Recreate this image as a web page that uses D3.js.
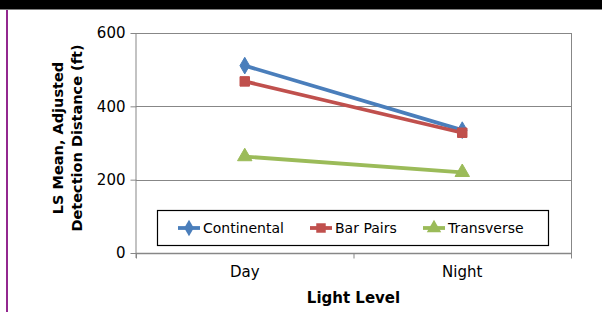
<!DOCTYPE html>
<html><head><meta charset="utf-8">
<script src="https://cdn.jsdelivr.net/npm/d3@7"></script>
<style>body{margin:0;background:#fff}svg{display:block}</style>
</head><body><svg id="c" width="602" height="312"></svg>
<script>
const categories = ["Day", "Night"];
const seriesNames = ["Continental", "Bar Pairs", "Transverse"];
const continental = [511, 335];
const barPairs = [468, 328];
const transverse = [263, 220];
const yTicks = [0, 200, 400, 600];
const colors = ["#4A7EBB", "#C0504D", "#9BBB59"];
const markers = ["diamond", "square", "triangle"];

const svg = d3.select("#c");
const font = "DejaVu Sans, Verdana, sans-serif";
const L = 136, R = 571, T = 33, B = 253;

// frame decorations
svg.append("rect").attr("x",0).attr("y",0).attr("width",602).attr("height",9).attr("fill","#000");
svg.append("line").attr("x1",0).attr("x2",602).attr("y1",9.5).attr("y2",9.5).attr("stroke","#7f7f7f");
svg.append("rect").attr("x",6).attr("y",10).attr("width",2).attr("height",302).attr("fill","#93278F");

const x = d3.scaleBand().domain(categories).range([L, R]);
const y = d3.scaleLinear().domain([0, 600]).range([B, T]);

// gridlines
svg.append("g").selectAll("line").data(yTicks.filter(d=>d>0)).join("line")
  .attr("x1",L).attr("x2",R).attr("y1",d=>Math.round(y(d))+0.5).attr("y2",d=>Math.round(y(d))+0.5)
  .attr("stroke","#878787").attr("stroke-width",1);
// right border
svg.append("line").attr("x1",R+0.5).attr("x2",R+0.5).attr("y1",T).attr("y2",B+5).attr("stroke","#878787");

// y axis
const yAxis = svg.append("g").attr("transform",`translate(${L+0.5},0)`)
  .call(d3.axisLeft(y).tickValues(yTicks).tickSize(6).tickPadding(5));
yAxis.select(".domain").attr("stroke","#878787").attr("d",`M-0.5,${T}V${B+5}`);
yAxis.selectAll(".tick line").attr("stroke","#878787");
yAxis.selectAll("text").attr("font-family",font).attr("font-size",15).attr("fill","#000");

// x axis
const xAxis = svg.append("g").attr("transform",`translate(0,${B+0.5})`);
xAxis.append("line").attr("x1",L).attr("x2",R+1).attr("y1",0).attr("y2",0).attr("stroke","#878787").attr("stroke-width",1.5);
const tickPos = categories.map(c=>x(c)).concat([R]);
xAxis.selectAll("line.t").data(tickPos).join("line").attr("class","t")
  .attr("x1",d=>d+0.5).attr("x2",d=>d+0.5).attr("y1",0).attr("y2",5).attr("stroke","#878787");
xAxis.selectAll("text").data(categories).join("text")
  .attr("x",d=>x(d)+x.bandwidth()/2).attr("y",23).attr("text-anchor","middle")
  .attr("font-family",font).attr("font-size",15).text(d=>d);

// titles
svg.append("text").attr("x",(L+R)/2).attr("y",303).attr("text-anchor","middle")
  .attr("font-family",font).attr("font-size",15).attr("font-weight","bold").text("Light Level");
const yt = svg.append("text").attr("transform",`translate(63,138) rotate(-90)`)
  .attr("text-anchor","middle").attr("font-family",font).attr("font-size",14.5).attr("font-weight","bold");
yt.append("tspan").attr("x",0).attr("dy",0).text("LS Mean, Adjusted");
yt.append("tspan").attr("x",0).attr("dy",19).text("Detection Distance (ft)");

const sym = {diamond: d3.symbolDiamond, square: d3.symbolSquare, triangle: d3.symbolTriangle};
const symSize = {diamond: 80, square: 90, triangle: 90};
const data = [continental, barPairs, transverse];
const line = d3.line().x((d,i)=>x(categories[i])+x.bandwidth()/2).y(d=>y(d));

data.forEach((vals,si)=>{
  const g = svg.append("g");
  g.append("path").attr("d",line(vals)).attr("fill","none").attr("stroke",colors[si]).attr("stroke-width",3.8);
  g.selectAll("path.m").data(vals).join("path").attr("class","m")
    .attr("transform",(d,i)=>`translate(${x(categories[i])+x.bandwidth()/2},${y(d)})`)
    .attr("d",d3.symbol().type(sym[markers[si]]).size(symSize[markers[si]])())
    .attr("fill",colors[si]).attr("stroke",colors[si]).attr("stroke-width",1);
});

// legend
const lg = svg.append("g");
lg.append("rect").attr("x",157.5).attr("y",210.5).attr("width",391).attr("height",35)
  .attr("fill","#fff").attr("stroke","#000").attr("stroke-width",1.2);
const legX = [178, 310, 423];
seriesNames.forEach((n,i)=>{
  const gg = lg.append("g").attr("transform",`translate(${legX[i]},228)`);
  gg.append("line").attr("x1",0).attr("x2",22).attr("y1",0).attr("y2",0).attr("stroke",colors[i]).attr("stroke-width",3.8);
  gg.append("path").attr("transform","translate(11,0)")
    .attr("d",d3.symbol().type(sym[markers[i]]).size(symSize[markers[i]])())
    .attr("fill",colors[i]);
  gg.append("text").attr("x",25).attr("y",5).attr("font-family",font).attr("font-size",14).text(n);
});
</script></body></html>
